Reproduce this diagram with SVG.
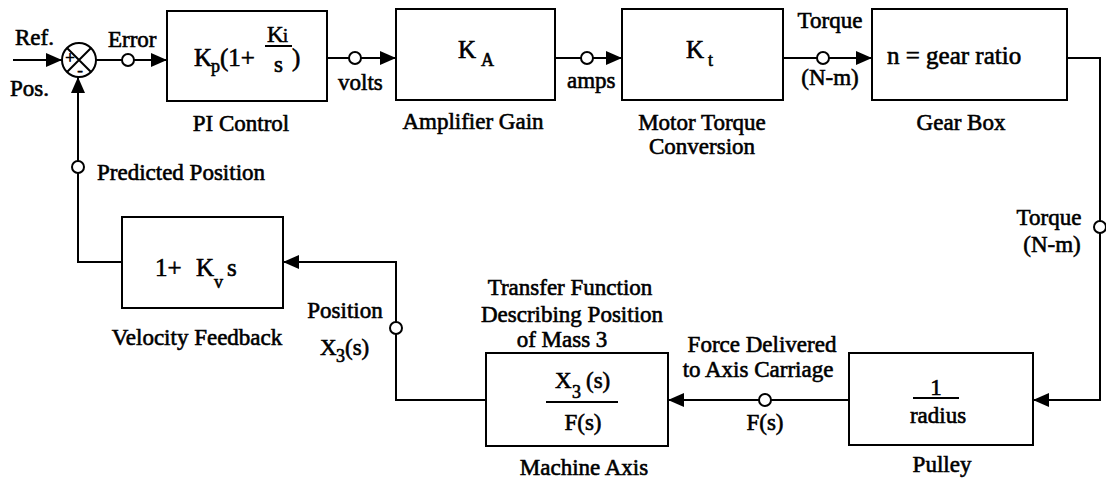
<svg xmlns="http://www.w3.org/2000/svg" width="1106" height="484" viewBox="0 0 1106 484">
<style>
text{font-family:"Liberation Serif","Times New Roman",serif;font-size:23px;fill:#000;stroke:#000;stroke-width:0.6}
.c{text-anchor:middle}
.big{font-size:25px}
.sub{font-size:18px}
.sg{font-size:17px}
.box{fill:#fff;stroke:#000;stroke-width:2}
.ln{fill:none;stroke:#000;stroke-width:2}
.tap{fill:#fff;stroke:#000;stroke-width:2}
</style>
<defs>
<marker id="ah" viewBox="0 0 16 14" refX="16" refY="7" markerWidth="16" markerHeight="14" markerUnits="userSpaceOnUse" orient="auto">
<path d="M0,0 L16,7 L0,14 Z" fill="#000"/>
</marker>
</defs>
<g id="connectors">
<path class="ln" d="M13,60 H62" marker-end="url(#ah)"/>
<path class="ln" d="M96,60 H167" marker-end="url(#ah)"/>
<path class="ln" d="M327,58 H396" marker-end="url(#ah)"/>
<path class="ln" d="M555,58 H622" marker-end="url(#ah)"/>
<path class="ln" d="M783,58 H872" marker-end="url(#ah)"/>
<path class="ln" d="M1067,58 H1100 V400 H1033" marker-end="url(#ah)"/>
<path class="ln" d="M849,400 H668" marker-end="url(#ah)"/>
<path class="ln" d="M486,400 H396 V262 H283" marker-end="url(#ah)"/>
<path class="ln" d="M122,262 H78 V77" marker-end="url(#ah)"/>
<circle class="tap" cx="128" cy="60" r="6"/>
<circle class="tap" cx="355" cy="58" r="6"/>
<circle class="tap" cx="587" cy="58" r="6"/>
<circle class="tap" cx="823" cy="58" r="6"/>
<circle class="tap" cx="1100" cy="227" r="6"/>
<circle class="tap" cx="765" cy="400" r="6"/>
<circle class="tap" cx="396" cy="328" r="6"/>
<circle class="tap" cx="78" cy="167" r="6"/>
<text x="15" y="45">Ref.</text>
<text x="10" y="96">Pos.</text>
<text x="108" y="47">Error</text>
<text x="338" y="90">volts</text>
<text x="567" y="88">amps</text>
<text class="c" x="830" y="28">Torque</text>
<text class="c" x="830" y="85">(N-m)</text>
<text class="c" x="1049" y="225">Torque</text>
<text class="c" x="1052" y="252">(N-m)</text>
<text class="c" x="762" y="352">Force Delivered</text>
<text class="c" x="758" y="377">to Axis Carriage</text>
<text class="c" x="765" y="430">F(s)</text>
<text x="97" y="180">Predicted Position</text>
<text class="c" x="345" y="318">Position</text>
<text x="320" y="355">X</text><text class="sub" x="336" y="362">3</text><text x="345" y="355">(s)</text>
</g>
<g id="sum">
<circle cx="79" cy="60" r="17" fill="#fff" stroke="#000" stroke-width="2"/>
<path class="ln" d="M67,48 L91,72 M91,48 L67,72"/>
<text class="sg c" x="70" y="63">+</text>
<text class="sg c" x="80" y="76">-</text>
</g>
<g id="pi">
<rect class="box" x="167" y="11" width="160" height="90"/>
<text class="big" x="194" y="66">K</text><text class="sub" x="211" y="72">p</text><text class="big" x="220" y="66">(1+</text>
<text x="267" y="42">K</text><text class="sub" x="283" y="42">i</text><path class="ln" d="M265,46 H292"/>
<text x="274" y="72">s</text><text class="big" x="292" y="66">)</text>
<text class="c" x="241" y="131">PI Control</text>
</g>
<g id="amp">
<rect class="box" x="396" y="9" width="159" height="91"/>
<text class="big" x="458" y="58">K</text><text class="sub" x="481" y="66">A</text>
<text class="c" x="473" y="129">Amplifier Gain</text>
</g>
<g id="motor">
<rect class="box" x="622" y="9" width="161" height="91"/>
<text class="big" x="686" y="58">K</text><text class="sub" x="708" y="66">t</text>
<text class="c" x="702" y="130">Motor Torque</text>
<text class="c" x="702" y="154">Conversion</text>
</g>
<g id="gear">
<rect class="box" x="872" y="9" width="195" height="91"/>
<text class="big" x="887" y="64">n = gear ratio</text>
<text class="c" x="961" y="130">Gear Box</text>
</g>
<g id="pulley">
<rect class="box" x="849" y="353" width="184" height="92"/>
<text class="c" x="936" y="395">1</text><path class="ln" d="M913,398 H959"/>
<text class="c" x="938" y="423">radius</text>
<text class="c" x="942" y="472">Pulley</text>
</g>
<g id="machine">
<rect class="box" x="486" y="353" width="182" height="93"/>
<text x="555" y="388">X</text><text class="sub" x="572" y="398">3</text><text x="586" y="388">(s)</text>
<path class="ln" d="M546,402 H618"/>
<text class="c" x="583" y="430">F(s)</text>
<text class="c" x="570" y="295">Transfer Function</text>
<text class="c" x="572" y="322">Describing Position</text>
<text class="c" x="562" y="347">of Mass 3</text>
<text class="c" x="584" y="475">Machine Axis</text>
</g>
<g id="velocity">
<rect class="box" x="122" y="217" width="161" height="91"/>
<text class="big" x="155" y="276">1+</text><text class="big" x="196" y="276">K</text><text class="sub" x="214" y="288">v</text><text class="big" x="227" y="276">s</text>
<text class="c" x="197" y="345">Velocity Feedback</text>
</g>
</svg>
